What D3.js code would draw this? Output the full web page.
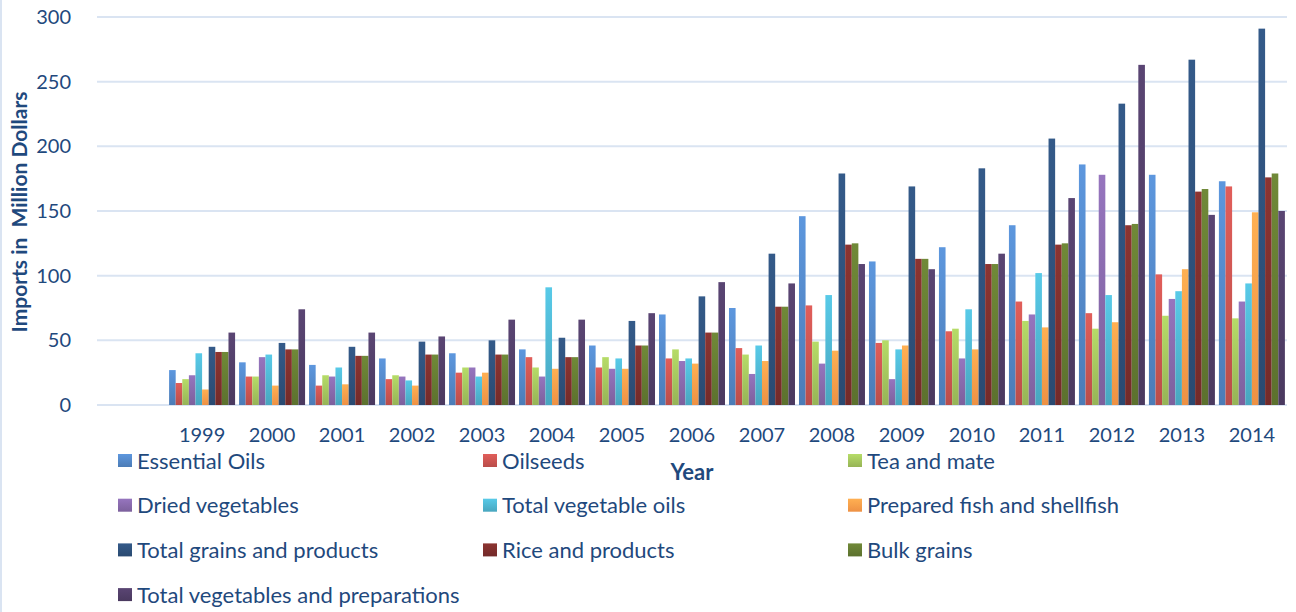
<!DOCTYPE html>
<html lang="en">
<head>
    <meta charset="UTF-8">
    <title>Imports by Year</title>
    <script src="https://d3js.org/d3.v7.min.js"></script>
    <style>
        body { margin: 0; background: #fff; }
        text { font-family: Lato, "Open Sans", sans-serif; fill: #1F497D; }
        .grid line { stroke: #DAE4F2; stroke-width: 2; }
        .axis path, .axis line { display: none; }
    </style>
</head>
<body>
    <div id="chart-container"></div>

    <script>
        // first slot is an empty category in the source sheet
        const years = ["", "1999", "2000", "2001", "2002", "2003", "2004", "2005", "2006",
            "2007", "2008", "2009", "2010", "2011", "2012", "2013", "2014"];

        const seriesNames = ["Essential Oils", "Oilseeds", "Tea and mate", "Dried vegetables",
            "Total vegetable oils", "Prepared fish and shellfish", "Total grains and products",
            "Rice and products", "Bulk grains", "Total vegetables and preparations"];

        const seriesColors = ["#4F81BD", "#C0504D", "#9BBB59", "#8064A2", "#4BACC6",
            "#F79646", "#2C4D75", "#772C2A", "#5F7530", "#4D3B62"];

        const essentialOils = [null, 27, 33, 31, 36, 40, 43, 46, 70, 75, 146, 111, 122, 139, 186, 178, 173];
        const oilseeds = [null, 17, 22, 15, 20, 25, 37, 29, 36, 44, 77, 48, 57, 80, 71, 101, 169];
        const teaAndMate = [null, 20, 22, 23, 23, 29, 29, 37, 43, 39, 49, 50, 59, 65, 59, 69, 67];
        const driedVegetables = [null, 23, 37, 22, 22, 29, 22, 28, 34, 24, 32, 20, 36, 70, 178, 82, 80];
        const totalVegetableOils = [null, 40, 39, 29, 19, 22, 91, 36, 36, 46, 85, 43, 74, 102, 85, 88, 94];
        const preparedFish = [null, 12, 15, 16, 15, 25, 28, 28, 32, 34, 42, 46, 43, 60, 64, 105, 149];
        const totalGrains = [null, 45, 48, 45, 49, 50, 52, 65, 84, 117, 179, 169, 183, 206, 233, 267, 291];
        const riceProducts = [null, 41, 43, 38, 39, 39, 37, 46, 56, 76, 124, 113, 109, 124, 139, 165, 176];
        const bulkGrains = [null, 41, 43, 38, 39, 39, 37, 46, 56, 76, 125, 113, 109, 125, 140, 167, 179];
        const totalVegetables = [null, 56, 74, 56, 53, 66, 66, 71, 95, 94, 109, 105, 117, 160, 263, 147, 150];

        const seriesValues = [essentialOils, oilseeds, teaAndMate, driedVegetables, totalVegetableOils,
            preparedFish, totalGrains, riceProducts, bulkGrains, totalVegetables];

        const yTicks = [0, 50, 100, 150, 200, 250, 300];

        const width = 1296;
        const height = 612;
        const margin = { top: 17, right: 9, bottom: 207, left: 97 };

        const svg = d3.select("#chart-container").append("svg")
            .attr("width", width)
            .attr("height", height);

        const x = d3.scaleBand()
            .domain(years)
            .range([margin.left, width - margin.right])
            .paddingInner(0.057)
            .paddingOuter(0.03);

        const xSeries = d3.scaleBand()
            .domain(seriesNames)
            .range([0, x.bandwidth()]);

        const y = d3.scaleLinear()
            .domain([0, 300])
            .range([height - margin.bottom, margin.top]);

        // gradients, lighter on top like the office style bars
        const defs = svg.append("defs");
        seriesColors.forEach((c, i) => {
            const g = defs.append("linearGradient")
                .attr("id", "grad" + i)
                .attr("x1", 0).attr("y1", 0).attr("x2", 0).attr("y2", 1);
            g.append("stop").attr("offset", "0%").attr("stop-color", d3.color(c).brighter(0.45));
            g.append("stop").attr("offset", "100%").attr("stop-color", d3.color(c).darker(0.1));
        });

        // grid
        svg.append("g")
            .attr("class", "grid")
            .selectAll("line")
            .data(yTicks)
            .enter().append("line")
            .attr("x1", margin.left)
            .attr("x2", width - margin.right)
            .attr("y1", d => y(d))
            .attr("y2", d => y(d));

        // left frame edge
        svg.append("line")
            .attr("x1", 1).attr("x2", 1)
            .attr("y1", 0).attr("y2", height)
            .attr("stroke", "#DAE4F2").attr("stroke-width", 2);

        // y axis
        svg.append("g")
            .attr("class", "axis")
            .attr("transform", "translate(" + (margin.left - 23) + ",0)")
            .call(d3.axisLeft(y).tickValues(yTicks).tickSize(0))
            .selectAll("text")
            .style("font-size", "20px");

        // x axis
        svg.append("g")
            .attr("class", "axis")
            .attr("transform", "translate(0," + (height - margin.bottom) + ")")
            .call(d3.axisBottom(x).tickSize(0).tickPadding(23))
            .selectAll("text")
            .style("font-size", "20px");

        // bars
        const groups = svg.selectAll(".series")
            .data(seriesNames)
            .enter().append("g")
            .attr("class", "series")
            .attr("fill", (d, i) => "url(#grad" + i + ")");

        groups.selectAll("rect")
            .data((d, i) => years.map((yr, j) => ({ year: yr, name: d, value: seriesValues[i][j] }))
                .filter(e => e.value != null))
            .enter().append("rect")
            .attr("x", d => x(d.year) + xSeries(d.name))
            .attr("width", xSeries.bandwidth())
            .attr("y", d => y(d.value))
            .attr("height", d => y(0) - y(d.value));

        // axis titles
        svg.append("text")
            .attr("x", 692)
            .attr("y", 480)
            .attr("text-anchor", "middle")
            .style("font-size", "22px")
            .style("font-weight", "bold")
            .text("Year");

        svg.append("text")
            .attr("transform", "translate(27,212) rotate(-90)")
            .attr("text-anchor", "middle")
            .style("font-size", "21px")
            .style("font-weight", "bold")
            .style("white-space", "pre")
            .text("Imports in  Million Dollars");

        // legend, three columns
        const legend = svg.selectAll(".legend")
            .data(seriesNames)
            .enter().append("g")
            .attr("class", "legend")
            .attr("transform", (d, i) => "translate(" + [118, 483, 848][i % 3] + "," + (461 + Math.floor(i / 3) * 44.7) + ")");

        legend.append("rect")
            .attr("x", 0)
            .attr("y", -7)
            .attr("width", 14)
            .attr("height", 13)
            .attr("fill", (d, i) => "url(#grad" + i + ")");

        legend.append("text")
            .attr("x", 19)
            .attr("y", 0)
            .attr("dy", "0.35em")
            .style("font-size", "22px")
            .text(d => d);
    </script>
</body>
</html>
